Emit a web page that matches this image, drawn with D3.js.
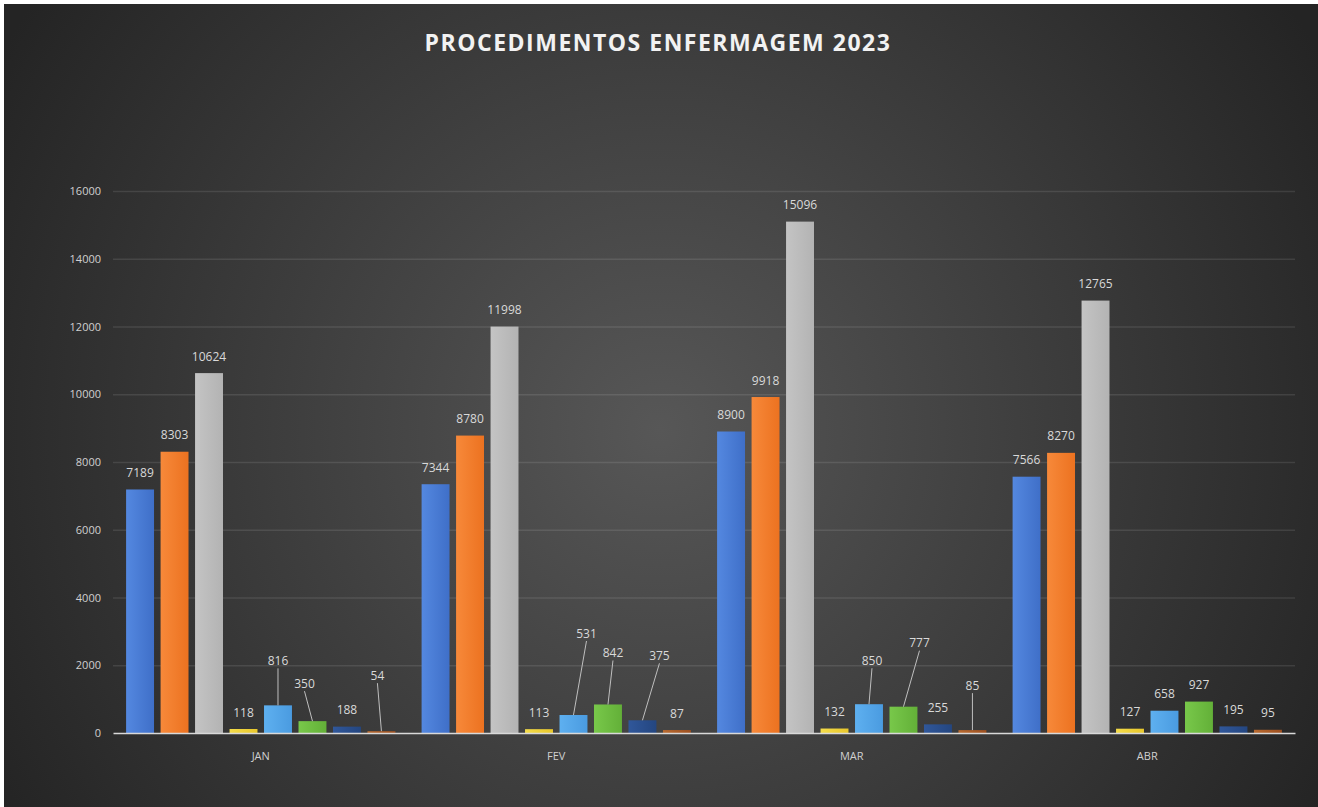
<!DOCTYPE html>
<html>
<head>
<meta charset="utf-8">
<script src="https://cdn.jsdelivr.net/npm/d3@7"></script>
<style>
  html, body { margin: 0; padding: 0; background: #fff; }
  svg { display: block; }
  text { font-family: "Open Sans", "DejaVu Sans", sans-serif; }
</style>
</head>
<body>
<svg id="chart" width="1318" height="807"></svg>
<script>
// data
var months = ["JAN", "FEV", "MAR", "ABR"];
var serieA = [7189, 7344, 8900, 7566];
var serieB = [8303, 8780, 9918, 8270];
var serieC = [10624, 11998, 15096, 12765];
var serieD = [118, 113, 132, 127];
var serieE = [816, 531, 850, 658];
var serieF = [350, 842, 777, 927];
var serieG = [188, 375, 255, 195];
var serieH = [54, 87, 85, 95];
var yTicks = [0, 2000, 4000, 6000, 8000, 10000, 12000, 14000, 16000];

var series = [serieA, serieB, serieC, serieD, serieE, serieF, serieG, serieH];
var colors = [
  ["#5488e0", "#3f6fc8"],
  ["#f7893a", "#ec7220"],
  ["#c4c4c4", "#b3b3b3"],
  ["#f4dc4a", "#e8c72c"],
  ["#5eb0f0", "#4a9be0"],
  ["#78c84a", "#63b038"],
  ["#30579a", "#244680"],
  ["#b86a30", "#9e5020"]
];

// moved labels (Excel leader lines): [month, serie, dx, dy]
var movedLabels = [
  [0, 4, 0, -28], [0, 5, -8, -21], [0, 7, -4, -39],
  [1, 4, 13, -65], [1, 5, 5, -35], [1, 6, 17, -48],
  [2, 4, 3, -27], [2, 5, 16, -47], [2, 7, 0, -28]
];

var svg = d3.select("#chart");
var W = 1318, H = 807;
var plot = {left: 113, right: 1295, top: 191, bottom: 733};

var defs = svg.append("defs");
var bg = defs.append("radialGradient")
  .attr("id", "bg")
  .attr("gradientUnits", "userSpaceOnUse")
  .attr("cx", 660).attr("cy", 430).attr("r", 760);
bg.append("stop").attr("offset", "0%").attr("stop-color", "#575757");
bg.append("stop").attr("offset", "100%").attr("stop-color", "#242424");

colors.forEach(function(c, i){
  var g = defs.append("linearGradient")
    .attr("id", "bar" + i)
    .attr("x1", "0%").attr("x2", "100%").attr("y1", "0%").attr("y2", "0%");
  g.append("stop").attr("offset", "0%").attr("stop-color", c[0]);
  g.append("stop").attr("offset", "100%").attr("stop-color", c[1]);
});

// white frame on top / left edge, then the dark background
svg.append("rect").attr("width", W).attr("height", H).attr("fill", "#ffffff");
svg.append("rect").attr("x", 4).attr("y", 4).attr("width", W - 4).attr("height", H - 4)
  .attr("fill", "url(#bg)");

svg.append("text")
  .attr("x", 658).attr("y", 51)
  .attr("text-anchor", "middle")
  .attr("fill", "#f2f2f2")
  .style("font-size", "23px")
  .style("font-weight", "bold")
  .style("letter-spacing", "1.5px")
  .text("PROCEDIMENTOS ENFERMAGEM 2023");

var y = d3.scaleLinear().domain([0, 16000]).range([plot.bottom, plot.top]);
var x0 = d3.scaleBand().domain(months).range([plot.left, plot.right]).padding(0);
var x1 = d3.scaleBand().domain(d3.range(series.length))
  .range([0, x0.bandwidth()]).paddingInner(0.19).paddingOuter(0.38);

// gridlines
svg.append("g")
  .selectAll("line")
  .data(yTicks.filter(function(d){ return d > 0; }))
  .join("line")
  .attr("x1", plot.left).attr("x2", plot.right)
  .attr("y1", function(d){ return y(d) + 0.5; })
  .attr("y2", function(d){ return y(d) + 0.5; })
  .attr("stroke", "#ffffff").attr("stroke-opacity", 0.1).attr("stroke-width", 1.3);

// y axis labels
var yAxis = svg.append("g")
  .attr("transform", "translate(" + (plot.left - 12) + ",0)")
  .call(d3.axisLeft(y).tickValues(yTicks).tickFormat(d3.format("d")).tickSize(0).tickPadding(0));
yAxis.select(".domain").remove();
yAxis.selectAll("text")
  .attr("fill", "#d0d0d0")
  .style("font-size", "11px")
  .style("font-family", "'Open Sans', sans-serif");

// bars
var rows = [];
months.forEach(function(m, mi){
  series.forEach(function(s, si){
    rows.push({month: m, mi: mi, si: si, value: s[mi]});
  });
});

svg.append("g")
  .selectAll("rect")
  .data(rows)
  .join("rect")
  .attr("x", function(d){ return x0(d.month) + x1(d.si); })
  .attr("y", function(d){ return y(d.value); })
  .attr("width", x1.bandwidth())
  .attr("height", function(d){ return y(0) - y(d.value); })
  .attr("fill", function(d){ return "url(#bar" + d.si + ")"; });

// x axis
var xAxis = svg.append("g")
  .attr("transform", "translate(0," + plot.bottom + ")")
  .call(d3.axisBottom(x0).tickSize(0).tickPadding(19));
xAxis.select(".domain").attr("stroke", "#d9d9d9").attr("stroke-width", 1.5);
xAxis.selectAll("text")
  .attr("fill", "#d0d0d0")
  .style("font-size", "11px")
  .style("font-family", "'Open Sans', sans-serif");

// data labels with leader lines
rows.forEach(function(d){
  var cx = x0(d.month) + x1(d.si) + x1.bandwidth() / 2;
  var top = y(d.value);
  d.cx = cx; d.top = top;
  d.lx = cx; d.ly = top - 17;
  d.moved = false;
  movedLabels.forEach(function(m){
    if(m[0] === d.mi && m[1] === d.si){
      d.lx = cx + m[2]; d.ly = top - 17 + m[3]; d.moved = true;
    }
  });
});

svg.append("g")
  .selectAll("line")
  .data(rows.filter(function(d){ return d.moved; }))
  .join("line")
  .attr("x1", function(d){ return d.lx; })
  .attr("y1", function(d){ return d.ly + 8; })
  .attr("x2", function(d){ return d.cx; })
  .attr("y2", function(d){ return d.top; })
  .attr("stroke", "#bfbfbf").attr("stroke-width", 1);

svg.append("g")
  .selectAll("text")
  .data(rows)
  .join("text")
  .attr("x", function(d){ return d.lx; })
  .attr("y", function(d){ return d.ly + 4.5; })
  .attr("text-anchor", "middle")
  .attr("fill", "#d9d9d9")
  .style("font-size", "12px")
  .text(function(d){ return d.value; });
</script>
</body>
</html>
